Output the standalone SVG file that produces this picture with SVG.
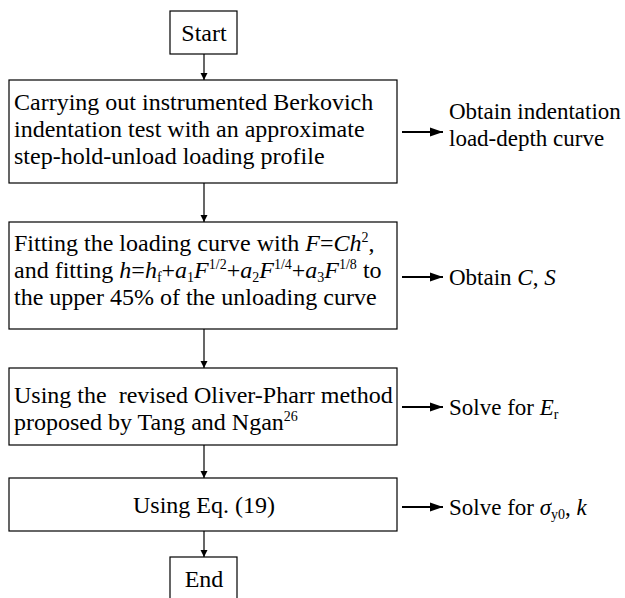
<svg xmlns="http://www.w3.org/2000/svg" width="625" height="598" viewBox="0 0 625 598">
<style>
.box{fill:#fff;stroke:#000;stroke-width:1.2}
text{font-family:"Liberation Serif","Times New Roman",serif;font-size:24px;fill:#000}
.c{text-anchor:middle}
.i{font-style:italic}
.s{font-size:14px}
.o{font-size:23px}
.v{stroke:#000;stroke-width:1.2;fill:none}
.h{stroke:#000;stroke-width:2;fill:none}
</style>
<defs>
<marker id="a" markerWidth="8" markerHeight="8" refX="7" refY="4" orient="auto" markerUnits="userSpaceOnUse"><path d="M0,0.5 L7,4 L0,7.5 Z" fill="#000"/></marker>
<marker id="b" markerWidth="14" markerHeight="10" refX="13" refY="5" orient="auto" markerUnits="userSpaceOnUse"><path d="M0,0.5 L13,5 L0,9.5 Z" fill="#000"/></marker>
</defs>
<g id="connectors">
<line class="v" x1="204" y1="54" x2="204" y2="80" marker-end="url(#a)"/>
<line class="v" x1="204" y1="183" x2="204" y2="222" marker-end="url(#a)"/>
<line class="v" x1="204" y1="329" x2="204" y2="368" marker-end="url(#a)"/>
<line class="v" x1="204" y1="445" x2="204" y2="478" marker-end="url(#a)"/>
<line class="v" x1="204" y1="531" x2="204" y2="557" marker-end="url(#a)"/>
<line class="h" x1="402" y1="132" x2="443" y2="132" marker-end="url(#b)"/>
<line class="h" x1="402" y1="277" x2="443" y2="277" marker-end="url(#b)"/>
<line class="h" x1="402" y1="407" x2="443" y2="407" marker-end="url(#b)"/>
<line class="h" x1="402" y1="507" x2="443" y2="507" marker-end="url(#b)"/>
</g>
<g id="start">
<rect class="box" x="170" y="11" width="67" height="43"/>
<text class="c" x="204" y="41">Start</text>
</g>
<g id="step1">
<rect class="box" x="9" y="80" width="388" height="103"/>
<text x="14" y="110">Carrying out instrumented Berkovich</text>
<text x="14" y="137">indentation test with an approximate</text>
<text x="14" y="164">step-hold-unload loading profile</text>
</g>
<g id="out1">
<text class="o" x="449" y="119">Obtain indentation</text>
<text class="o" x="449" y="146">load-depth curve</text>
</g>
<g id="step2">
<rect class="box" x="9" y="222" width="388" height="107"/>
<text x="14" y="251">Fitting the loading curve with <tspan class="i">F</tspan>=<tspan class="i">Ch</tspan><tspan class="s" dy="-9">2</tspan><tspan dy="9">,</tspan></text>
<text x="14" y="278">and fitting <tspan class="i">h</tspan>=<tspan class="i">h</tspan><tspan class="s" dy="4">f</tspan><tspan dy="-4">+</tspan><tspan class="i">a</tspan><tspan class="s" dy="4">1</tspan><tspan class="i" dy="-4">F</tspan><tspan class="s" dy="-9">1/2</tspan><tspan dy="9">+</tspan><tspan class="i">a</tspan><tspan class="s" dy="4">2</tspan><tspan class="i" dy="-4">F</tspan><tspan class="s" dy="-9">1/4</tspan><tspan dy="9">+</tspan><tspan class="i">a</tspan><tspan class="s" dy="4">3</tspan><tspan class="i" dy="-4">F</tspan><tspan class="s" dy="-9">1/8</tspan><tspan dy="9"> to</tspan></text>
<text x="14" y="305">the upper 45% of the unloading curve</text>
</g>
<g id="out2">
<text class="o" x="449" y="285">Obtain <tspan class="i">C</tspan>, <tspan class="i">S</tspan></text>
</g>
<g id="step3">
<rect class="box" x="9" y="368" width="388" height="77"/>
<text x="14" y="403" xml:space="preserve">Using the  revised Oliver-Pharr method</text>
<text x="14" y="430">proposed by Tang and Ngan<tspan class="s" dy="-9">26</tspan></text>
</g>
<g id="out3">
<text class="o" x="449" y="415">Solve for <tspan class="i">E</tspan><tspan class="s" dy="4">r</tspan></text>
</g>
<g id="step4">
<rect class="box" x="9" y="478" width="388" height="53"/>
<text class="c" x="204" y="513">Using Eq. (19)</text>
</g>
<g id="out4">
<text class="o" x="449" y="515">Solve for <tspan class="i">σ</tspan><tspan class="s" dy="4">y0</tspan><tspan dy="-4">, </tspan><tspan class="i">k</tspan></text>
</g>
<g id="end">
<rect class="box" x="170" y="557" width="67" height="60"/>
<text class="c" x="204" y="587">End</text>
</g>
</svg>
